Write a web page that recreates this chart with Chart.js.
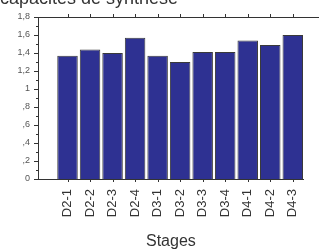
<!DOCTYPE html>
<html>
<head>
<meta charset="utf-8">
<script src="https://cdn.jsdelivr.net/npm/chart.js@4"></script>
<style>
  html, body { margin: 0; padding: 0; background: #fff; overflow: hidden; }
  #wrap { position: relative; width: 319px; height: 251px; }
  #title { position: absolute; left: 0; top: -12px; font: 18px "Liberation Sans", Arial, sans-serif; color: #333; white-space: nowrap; }
</style>
</head>
<body>
<div id="wrap">
  <canvas id="chart" width="319" height="251"></canvas>
  <div id="title">capacités de synthèse</div>
</div>
<script>
// données
const stages = ['D2-1', 'D2-2', 'D2-3', 'D2-4', 'D3-1', 'D3-2', 'D3-3', 'D3-4', 'D4-1', 'D4-2', 'D4-3'];
const positions = [1, 2, 3, 4, 5, 6, 7, 8, 9, 10, 11];
const valeurs = [1.37, 1.44, 1.40, 1.57, 1.37, 1.30, 1.41, 1.41, 1.54, 1.49, 1.60];
const yTicks = [0, 0.2, 0.4, 0.6, 0.8, 1, 1.2, 1.4, 1.6, 1.8];

const gris = '#555';

// format à la française : ,2 / 1 / 1,4
function fmt(v) {
    const n = Math.round(v * 10);
    const ent = Math.floor(n / 10);
    const dec = n % 10;
    if (dec === 0) return String(ent);
    return (ent === 0 ? '' : ent) + ',' + dec;
}

// petits traits et cadre supérieur
const axisDecor = {
    id: 'axisDecor',
    afterDraw(chart) {
        const { ctx, chartArea: a, scales } = chart;
        ctx.save();
        ctx.strokeStyle = '#333';
        ctx.lineWidth = 1;
        ctx.beginPath();
        // ligne du haut
        ctx.moveTo(a.left, a.top + 0.5);
        ctx.lineTo(chart.width, a.top + 0.5);
        positions.forEach(p => {
            const x = Math.round(scales.x.getPixelForValue(p)) + 0.5;
            ctx.moveTo(x, a.top);
            ctx.lineTo(x, a.top - 3);
            ctx.moveTo(x, a.bottom);
            ctx.lineTo(x, a.bottom + 3);
        });
        // graduations mineures/majeures en y
        for (let i = 0; i <= 18; i++) {
            const y = Math.round(scales.y.getPixelForValue(i / 10)) + 0.5;
            ctx.moveTo(a.left, y);
            ctx.lineTo(a.left - (i % 2 === 0 ? 4 : 2), y);
        }
        ctx.stroke();
        ctx.restore();
    }
};

new Chart(document.getElementById('chart'), {
    type: 'bar',
    data: {
        datasets: [{
            data: positions.map((p, i) => ({ x: p, y: valeurs[i] })),
            backgroundColor: '#2e3192',
            borderColor: '#3a3a3a',
            borderWidth: 1,
            barPercentage: 0.91,
            categoryPercentage: 1
        }]
    },
    options: {
        responsive: false,
        animation: false,
        layout: { padding: { top: 17, right: 15, left: 0, bottom: 0 } },
        plugins: { legend: { display: false }, tooltip: { enabled: false } },
        scales: {
            x: {
                type: 'linear',
                offset: false,
                min: -0.31,
                max: 11.49,
                afterBuildTicks: s => { s.ticks = positions.map(v => ({ value: v })); },
                afterFit: s => { s.height = 72; },
                grid: { display: false, drawTicks: false },
                border: { display: true, color: '#333', width: 1 },
                ticks: {
                    autoSkip: false,
                    maxRotation: 90,
                    minRotation: 90,
                    padding: 10,
                    color: '#333',
                    font: { family: 'Liberation Sans', size: 13 },
                    callback: v => stages[v - 1]
                },
                title: {
                    display: true,
                    text: 'Stages',
                    color: '#333',
                    font: { family: 'Liberation Sans', size: 16 },
                    padding: { top: 8, bottom: 0 }
                }
            },
            y: {
                min: 0,
                max: 1.8,
                afterBuildTicks: s => { s.ticks = yTicks.map(v => ({ value: v })); },
                afterFit: s => { s.width = 38; },
                grid: { display: false, drawTicks: false },
                border: { display: true, color: '#333', width: 1 },
                ticks: {
                    padding: 8,
                    color: gris,
                    font: { family: 'Liberation Sans', size: 9 },
                    callback: v => fmt(v)
                }
            }
        }
    },
    plugins: [axisDecor]
});
</script>
</body>
</html>
